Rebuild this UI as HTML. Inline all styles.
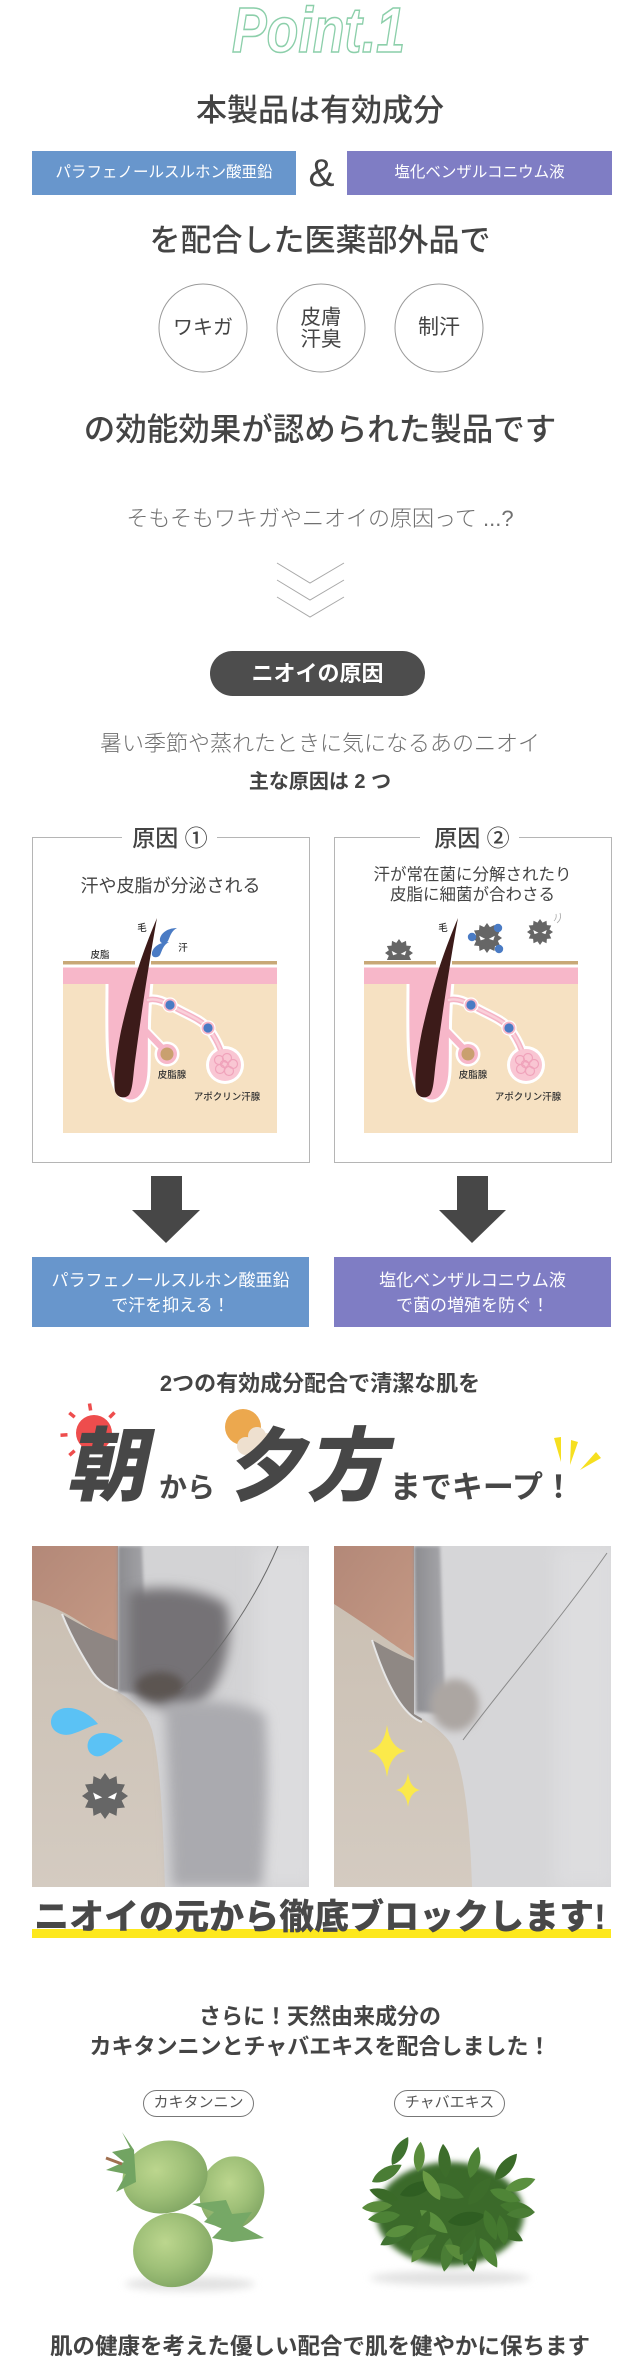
<!DOCTYPE html>
<html><head><meta charset="utf-8">
<style>
html,body{margin:0;padding:0;background:#fff;}
body{width:640px;height:2359px;overflow:hidden;position:relative;font-family:"Liberation Sans","Noto Sans CJK JP",sans-serif;color:#444;}
svg.bg{position:absolute;left:0;top:0;}
.t{position:absolute;white-space:nowrap;text-align:center;}
.full{left:0;width:640px;}
.m{font-weight:500;}
.b{font-weight:700;}
.l{font-weight:300;color:#707070;}
.w{color:#fff;}
</style></head><body>
<svg class="bg" width="640" height="2359" viewBox="0 0 640 2359" xmlns="http://www.w3.org/2000/svg">
<defs>
  <symbol id="germ" viewBox="-10 -10 20 20" overflow="visible">
    <polygon fill="#666" points="10,0 7.24,1.94 8.66,5 5.3,5.3 5,8.66 1.94,7.24 0,10 -1.94,7.24 -5,8.66 -5.3,5.3 -8.66,5 -7.24,1.94 -10,0 -7.24,-1.94 -8.66,-5 -5.3,-5.3 -5,-8.66 -1.94,-7.24 0,-10 1.94,-7.24 5,-8.66 5.3,-5.3 8.66,-5 7.24,-1.94"/>
    <polygon fill="#fff" points="-5.2,-1.5 -1.2,0.6 -4.2,1.6"/>
    <polygon fill="#fff" points="5.2,-1.5 1.2,0.6 4.2,1.6"/>
  </symbol>
  <g id="skin">
    <rect x="0" y="-1" width="214" height="7" fill="#fff"/>
    <rect x="0" y="0" width="72" height="3.5" fill="#c8a877"/>
    <rect x="88" y="0" width="126" height="3.5" fill="#c8a877"/>
    <rect x="0" y="23" width="214" height="149" fill="#f6e1c2"/>
    <path d="M85,39 C92,37 100,40 107,44 C120,52 138,58 145,67 C152,76 158,88 161,100" fill="none" stroke="#fff" stroke-width="10" stroke-linecap="round"/>
    <path d="M79,66 L104,92" stroke="#fff" stroke-width="10" stroke-linecap="round"/>
    <circle cx="104" cy="93" r="12.5" fill="#fff"/>
    <circle cx="162" cy="104" r="19" fill="#fff"/>
    <path d="M44,20 C44,70 41,118 57,135 C69,147 85,137 86,110 C87,88 85,60 89,20 Z" fill="#f7b7c9" stroke="#fff" stroke-width="3"/>
    <path d="M85,39 C92,37 100,40 107,44 C120,52 138,58 145,67 C152,76 158,88 161,100" fill="none" stroke="#f5b3c5" stroke-width="5.5" stroke-linecap="round"/>
    <path d="M85,39 C92,37 100,40 107,44 C120,52 138,58 145,67 C152,76 158,88 161,100" fill="none" stroke="#fad0da" stroke-width="2.5" stroke-linecap="round"/>
    <path d="M79,66 L104,92" stroke="#f7b7c9" stroke-width="6" stroke-linecap="round"/>
    <circle cx="104" cy="93" r="10" fill="#f7b7c9"/>
    <circle cx="104" cy="93" r="6.5" fill="#c9a06f"/>
    <circle cx="162" cy="104" r="16" fill="#f9c6d3"/>
    <g fill="none" stroke="#f0a3bb" stroke-width="1.2">
      <circle cx="156" cy="99" r="4.5"/><circle cx="164" cy="97" r="4.5"/><circle cx="170" cy="103" r="4.5"/>
      <circle cx="157" cy="108" r="4.5"/><circle cx="166" cy="110" r="4.5"/><circle cx="161" cy="103" r="3.5"/>
    </g>
    <circle cx="107" cy="44" r="7" fill="#f7b7c9" stroke="#fff" stroke-width="1.2"/>
    <circle cx="107" cy="44" r="4.6" fill="#4a7bc4"/>
    <circle cx="145" cy="67" r="7" fill="#f7b7c9" stroke="#fff" stroke-width="1.2"/>
    <circle cx="145" cy="67" r="4.6" fill="#4a7bc4"/>
    <rect x="0" y="6.5" width="214" height="16.5" fill="#f7b7c9"/>
    <path d="M94,-43 C88,-10 80,40 72,100 C70,115 70,128 66,134 C62,138 54,137 52,130 C50,120 53,95 58,70 C68,25 80,-10 94,-43 Z" fill="#3c1b19"/>
    <g font-family="Liberation Sans, Noto Sans CJK JP, sans-serif" font-size="9.5" font-weight="500" fill="#333" text-anchor="middle">
      <text x="79" y="-30">毛</text>
      <text x="109" y="117">皮脂腺</text>
      <text x="164" y="139">アポクリン汗腺</text>
    </g>
  </g>
  <filter id="blur8" x="-50%" y="-50%" width="200%" height="200%"><feGaussianBlur stdDeviation="8"/></filter>
  <filter id="blur6" x="-50%" y="-50%" width="200%" height="200%"><feGaussianBlur stdDeviation="6"/></filter>
  <filter id="blur4" x="-50%" y="-50%" width="200%" height="200%"><feGaussianBlur stdDeviation="4"/></filter>
  <filter id="blur3" x="-50%" y="-50%" width="200%" height="200%"><feGaussianBlur stdDeviation="3"/></filter>
  <filter id="blur2" x="-50%" y="-50%" width="200%" height="200%"><feGaussianBlur stdDeviation="1.5"/></filter>
  <clipPath id="cpL"><rect x="32" y="1546" width="277" height="341"/></clipPath>
  <clipPath id="cpR"><rect x="334" y="1546" width="277" height="341"/></clipPath>
  <linearGradient id="bgG" x1="0" y1="0" x2="0" y2="1"><stop offset="0" stop-color="#c9beb1"/><stop offset="1" stop-color="#d4cbc1"/></linearGradient>
  <linearGradient id="skG" x1="0" y1="0" x2="1" y2="1"><stop offset="0" stop-color="#b38878"/><stop offset="1" stop-color="#c69a85"/></linearGradient>
  <linearGradient id="hemG" x1="0" y1="0" x2="1" y2="0"><stop offset="0" stop-color="#8c8c90"/><stop offset="1" stop-color="#a8a8ac"/></linearGradient>
  <radialGradient id="pG" cx="0.42" cy="0.38" r="0.72"><stop offset="0" stop-color="#bcd68e"/><stop offset="0.5" stop-color="#9fc078"/><stop offset="1" stop-color="#7aa05e"/></radialGradient>
  <path id="leaf" d="M0,0 C5,-4.5 13,-4.5 19,0 C13,4.5 5,4.5 0,0 Z"/>
</defs>

<!-- Point.1 -->
<text x="232" y="52" font-family="Liberation Sans, sans-serif" font-weight="bold" font-style="italic" font-size="64" fill="none" stroke="#8ccfaa" stroke-width="1.6" textLength="173" lengthAdjust="spacingAndGlyphs">Point.1</text>

<!-- top boxes -->
<rect x="32" y="151" width="264" height="44" fill="#6896cc"/>
<rect x="347" y="151" width="265" height="44" fill="#7f7dc4"/>

<!-- circles -->
<circle cx="203" cy="328" r="44" fill="none" stroke="#9a9a9a" stroke-width="1"/>
<circle cx="321" cy="328" r="44" fill="none" stroke="#9a9a9a" stroke-width="1"/>
<circle cx="439" cy="328" r="44" fill="none" stroke="#9a9a9a" stroke-width="1"/>

<!-- chevrons -->
<g fill="none" stroke="#a8a8a8" stroke-width="1">
  <polyline points="277,563 310,583 344,563"/>
  <polyline points="277,580 310,600 344,580"/>
  <polyline points="277,597 310,617 344,597"/>
</g>

<!-- pill -->
<rect x="210" y="651" width="215" height="45" rx="22.5" fill="#4d4d4d"/>

<!-- cause boxes -->
<path d="M122,837.5 H32.5 V1162.5 H309.5 V837.5 H217" fill="none" stroke="#b5b5b5" stroke-width="1"/>
<path d="M420,837.5 H334.5 V1162.5 H611.5 V837.5 H519" fill="none" stroke="#b5b5b5" stroke-width="1"/>

<!-- box 1 illustration -->
<use href="#skin" transform="translate(63,961)"/>
<path d="M177,928 C166,928 159,935 160,941 C161,944 166,944 168,941 C170,937 171,931 177,928 Z" fill="#4a7bc4"/>
<path d="M169,942 C158,942 151,949 152,955 C153,958 158,958 160,955 C162,951 163,945 169,942 Z" fill="#4a7bc4"/>
<g font-family="Liberation Sans, Noto Sans CJK JP, sans-serif" font-size="9.5" font-weight="500" fill="#333" text-anchor="middle">
  <text x="183" y="951">汗</text>
  <text x="100" y="958">皮脂</text>
</g>

<!-- box 2 illustration -->
<use href="#germ" x="385" y="939" width="28" height="28"/>
<use href="#skin" transform="translate(364,961)"/>
<use href="#germ" x="472" y="923" width="30" height="30"/>
<circle cx="472" cy="937" r="4.2" fill="#4a7bc4"/>
<circle cx="498" cy="928" r="4.2" fill="#4a7bc4"/>
<circle cx="499" cy="949" r="4.2" fill="#4a7bc4"/>
<use href="#germ" x="527" y="919" width="26" height="26"/>
<path d="M554,921 q3,-3 2,-7 M557,923 q5,-4 3,-10" fill="none" stroke="#aaa" stroke-width="0.8"/>

<!-- arrows -->
<rect x="151" y="1176" width="31" height="35" fill="#474747"/>
<polygon points="132,1210 200,1210 166,1243" fill="#474747"/>
<rect x="457" y="1176" width="31" height="35" fill="#474747"/>
<polygon points="439,1210 506,1210 472,1243" fill="#474747"/>

<!-- result boxes -->
<rect x="32" y="1257" width="277" height="70" fill="#6896cc"/>
<rect x="334" y="1257" width="277" height="70" fill="#7f7dc4"/>

<!-- sun -->
<g stroke="#ee4d4d" stroke-width="3.5" stroke-linecap="butt">
  <line x1="90.6" y1="1410.5" x2="89.5" y2="1403.5"/>
  <line x1="109.5" y1="1417.5" x2="114.5" y2="1412.5"/>
  <line x1="74.7" y1="1417.2" x2="69.3" y2="1412.8"/>
  <line x1="67.5" y1="1434.8" x2="60.5" y2="1435.2"/>
  <line x1="74.6" y1="1450.7" x2="69.4" y2="1455.3"/>
</g>
<circle cx="94" cy="1433" r="18" fill="#ee4d4d"/>
<!-- sunset -->
<circle cx="243" cy="1427" r="18" fill="#eca84e"/>
<g fill="#eee0cf">
  <circle cx="246" cy="1446" r="9"/><circle cx="257" cy="1436" r="9"/><circle cx="268" cy="1440" r="7"/><circle cx="258" cy="1449" r="8"/>
</g>
<!-- sparks -->
<g fill="#f6df1f">
  <polygon points="554,1438 561,1437 561,1462"/>
  <polygon points="571,1440 578,1442 570,1465"/>
  <polygon points="596,1452 601,1458 580,1470"/>
</g>

<!-- left photo -->
<g clip-path="url(#cpL)">
  <rect x="32" y="1546" width="277" height="341" fill="url(#bgG)"/>
  <path d="M32,1546 H124 V1645 C110,1642 95,1632 80,1622 C65,1612 48,1604 32,1600 Z" fill="url(#skG)"/>
  <path d="M62,1614 C80,1625 100,1635 122,1642 L124,1692 C110,1690 98,1682 90,1668 C80,1652 70,1634 62,1614 Z" fill="#8e8683"/>
  <path d="M62,1614 C70,1634 80,1652 90,1668 C98,1682 110,1690 124,1692" fill="none" stroke="#e6e6e6" stroke-width="2"/>
  <path d="M118,1546 H309 V1887 H165 C163,1820 160,1760 152,1730 C146,1712 135,1702 118,1692 Z" fill="#d3d3d5"/>
  <rect x="255" y="1546" width="60" height="341" fill="#dcdcde" filter="url(#blur8)"/>
  <path d="M118,1546 H142 C144,1600 146,1650 150,1694 L118,1692 Z" fill="url(#hemG)" filter="url(#blur2)"/>
  <path d="M128,1592 C160,1584 200,1588 226,1604 C236,1640 222,1690 196,1706 C170,1713 142,1706 128,1690 Z" fill="#747276" filter="url(#blur6)"/>
  <ellipse cx="160" cy="1686" rx="24" ry="14" fill="#5b5451" filter="url(#blur4)"/>
  <path d="M165,1705 C200,1698 240,1700 265,1715 C270,1780 265,1850 262,1887 H172 C170,1820 168,1760 165,1705 Z" fill="#aaaaaf" filter="url(#blur6)"/>
  <path d="M278,1546 C255,1600 215,1660 180,1690" fill="none" stroke="#6a6a6a" stroke-width="1"/>
  <path d="M98,1724 C85,1708 62,1702 53,1715 C46,1727 58,1738 72,1734 C82,1731 90,1726 98,1724 Z" fill="#5bc2f5"/>
  <path d="M123,1741 C112,1731 95,1730 89,1740 C84,1750 93,1760 103,1755 C110,1751 117,1745 123,1741 Z" fill="#5bc2f5"/>
  <use href="#germ" x="82" y="1773" width="46" height="46"/>
</g>

<!-- right photo -->
<g clip-path="url(#cpR)">
  <rect x="334" y="1546" width="277" height="341" fill="url(#bgG)"/>
  <path d="M334,1546 H418 V1660 C400,1650 375,1630 334,1604 Z" fill="url(#skG)"/>
  <path d="M372,1640 C390,1650 405,1658 418,1662 L422,1722 C405,1716 388,1690 372,1640 Z" fill="#8f8884"/>
  <path d="M372,1640 C388,1690 405,1716 422,1722" fill="none" stroke="#e6e6e6" stroke-width="2"/>
  <path d="M414,1546 H611 V1887 H472 C470,1820 464,1770 452,1745 C442,1730 428,1722 414,1714 Z" fill="#d6d6d8"/>
  <rect x="555" y="1546" width="60" height="341" fill="#dddddf" filter="url(#blur8)"/>
  <path d="M414,1546 H440 C442,1600 443,1660 446,1714 L416,1712 Z" fill="url(#hemG)" filter="url(#blur2)"/>
  <ellipse cx="455" cy="1705" rx="24" ry="26" fill="#aca6a2" filter="url(#blur4)"/>
  <path d="M607,1553 C560,1620 500,1690 463,1740" fill="none" stroke="#8a8a8a" stroke-width="1"/>
  <path d="M387,1725 Q390,1748 406,1751 Q390,1754 387,1777 Q384,1754 368,1751 Q384,1748 387,1725 Z" fill="#fbe94a"/>
  <path d="M408,1773 Q410,1788 420,1790 Q410,1792 408,1807 Q406,1792 396,1790 Q406,1788 408,1773 Z" fill="#fbe94a"/>
</g>

<!-- yellow underline -->
<rect x="32" y="1929" width="579" height="9" fill="#fde81e"/>

<!-- pills -->
<rect x="143.5" y="2090.5" width="110" height="26" rx="13" fill="none" stroke="#777" stroke-width="1"/>
<rect x="394.5" y="2090.5" width="110" height="26" rx="13" fill="none" stroke="#777" stroke-width="1"/>

<!-- persimmons -->
<ellipse cx="190" cy="2284" rx="65" ry="7" fill="#e2e2e2" filter="url(#blur4)"/>
<ellipse cx="232" cy="2193" rx="32" ry="37" transform="rotate(15 232 2193)" fill="url(#pG)"/>
<ellipse cx="165" cy="2177" rx="43" ry="36" transform="rotate(-15 165 2177)" fill="url(#pG)"/>
<path d="M122,2132 L130,2148 L112,2152 L124,2162 L106,2170 L126,2174 L116,2192 L136,2182 L134,2150 Z" fill="#72a462"/>
<line x1="106" y1="2158" x2="122" y2="2164" stroke="#a07050" stroke-width="3"/>
<ellipse cx="173" cy="2250" rx="40" ry="37" transform="rotate(-10 173 2250)" fill="url(#pG)"/>
<path d="M192,2204 L214,2212 L204,2222 L222,2228 L212,2238 L232,2242 L264,2238 L242,2226 L252,2212 L232,2214 L226,2200 Z" fill="#76a866"/>

<!-- tea leaves -->
<ellipse cx="450" cy="2278" rx="80" ry="7" fill="#e2e2e2" filter="url(#blur4)"/>
<ellipse cx="450" cy="2214" rx="74" ry="52" fill="#3a6a29" filter="url(#blur3)"/>
<g>
  <use href="#leaf" transform="translate(372,2182) rotate(-30) scale(1.8)" fill="#4a7d35"/>
  <use href="#leaf" transform="translate(392,2165) rotate(-60) scale(1.7)" fill="#3f7230"/>
  <use href="#leaf" transform="translate(418,2172) rotate(-85) scale(1.6)" fill="#5a8c3c"/>
  <use href="#leaf" transform="translate(446,2178) rotate(-95) scale(1.8)" fill="#3d6d2b"/>
  <use href="#leaf" transform="translate(470,2178) rotate(-75) scale(1.7)" fill="#4d8236"/>
  <use href="#leaf" transform="translate(495,2180) rotate(-50) scale(1.8)" fill="#3a6a28"/>
  <use href="#leaf" transform="translate(505,2190) rotate(-20) scale(1.7)" fill="#5a8f3e"/>
  <use href="#leaf" transform="translate(500,2205) rotate(10) scale(1.8)" fill="#44782f"/>
  <use href="#leaf" transform="translate(495,2225) rotate(30) scale(1.7)" fill="#3c6c2a"/>
  <use href="#leaf" transform="translate(480,2238) rotate(60) scale(1.8)" fill="#4f8537"/>
  <use href="#leaf" transform="translate(468,2240) rotate(80) scale(1.7)" fill="#3a6a28"/>
  <use href="#leaf" transform="translate(450,2238) rotate(100) scale(1.8)" fill="#4a7d35"/>
  <use href="#leaf" transform="translate(430,2236) rotate(125) scale(1.7)" fill="#5a8c3c"/>
  <use href="#leaf" transform="translate(410,2228) rotate(150) scale(1.8)" fill="#3f7230"/>
  <use href="#leaf" transform="translate(400,2215) rotate(172) scale(1.7)" fill="#4d8236"/>
  <use href="#leaf" transform="translate(398,2200) rotate(200) scale(1.6)" fill="#3a6a28"/>
  <use href="#leaf" transform="translate(400,2195) rotate(-20) scale(1.9)" fill="#2f5e22"/>
  <use href="#leaf" transform="translate(430,2185) rotate(20) scale(1.9)" fill="#4a7d35"/>
  <use href="#leaf" transform="translate(468,2205) rotate(-50) scale(1.9)" fill="#3d6d2b"/>
  <use href="#leaf" transform="translate(420,2210) rotate(40) scale(1.9)" fill="#5a8f3e"/>
  <use href="#leaf" transform="translate(448,2222) rotate(-10) scale(2.0)" fill="#2f5e22"/>
  <use href="#leaf" transform="translate(485,2210) rotate(70) scale(1.7)" fill="#44782f"/>
  <use href="#leaf" transform="translate(418,2240) rotate(-70) scale(1.7)" fill="#3c6c2a"/>
  <use href="#leaf" transform="translate(445,2245) rotate(30) scale(1.7)" fill="#5a8c3c"/>
  <use href="#leaf" transform="translate(475,2235) rotate(110) scale(1.7)" fill="#3f7230"/>
  <use href="#leaf" transform="translate(490,2190) rotate(20) scale(1.7)" fill="#4f8537"/>
  <use href="#leaf" transform="translate(362,2208) rotate(-5) scale(1.6)" fill="#5a8c3c"/>
  <use href="#leaf" transform="translate(535,2212) rotate(175) scale(1.5)" fill="#4a7d35"/>
  <use href="#leaf" transform="translate(440,2200) rotate(-120) scale(1.8)" fill="#6a9a45"/>
  <use href="#leaf" transform="translate(410,2250) rotate(-30) scale(1.6)" fill="#4a7d35"/>
  <use href="#leaf" transform="translate(460,2255) rotate(-60) scale(1.6)" fill="#3d6d2b"/>
  <use href="#leaf" transform="translate(385,2235) rotate(-15) scale(1.6)" fill="#5a8f3e"/>
  <use href="#leaf" transform="translate(505,2245) rotate(-100) scale(1.6)" fill="#44782f"/>
</g>
</svg>

<div class="t full m" style="top:91px;font-size:31px;line-height:40px;">本製品は有効成分</div>
<div class="t w" style="left:32px;width:264px;top:151px;font-size:15.5px;line-height:44px;">パラフェノールスルホン酸亜鉛</div>
<div class="t" style="left:296px;width:51px;top:154px;font-size:39px;line-height:40px;color:#444;">&amp;</div>
<div class="t w" style="left:347px;width:265px;top:151px;font-size:15.5px;line-height:44px;">塩化ベンザルコニウム液</div>
<div class="t full m" style="top:221px;font-size:31px;line-height:40px;">を配合した医薬部外品で</div>

<div class="t" style="left:159px;width:88px;top:316px;font-size:20px;line-height:24px;">ワキガ</div>
<div class="t" style="left:277px;width:88px;top:307px;font-size:20.5px;line-height:22px;">皮膚<br>汗臭</div>
<div class="t" style="left:395px;width:88px;top:316px;font-size:21px;line-height:24px;">制汗</div>

<div class="t full m" style="top:409px;font-size:31.5px;line-height:40px;">の効能効果が認められた製品です</div>

<div class="t full l" style="top:504px;font-size:22px;line-height:30px;">そもそもワキガやニオイの原因って ...?</div>
<div class="t b w" style="left:210px;width:215px;top:659px;font-size:22px;line-height:30px;">ニオイの原因</div>
<div class="t full l" style="top:729px;font-size:22px;line-height:30px;">暑い季節や蒸れたときに気になるあのニオイ</div>
<div class="t full b" style="top:768px;font-size:20px;line-height:28px;">主な原因は 2 つ</div>

<div class="t m" style="left:120px;width:100px;top:823px;font-size:23px;line-height:30px;">原因 ①</div>
<div class="t m" style="left:422px;width:100px;top:823px;font-size:23px;line-height:30px;">原因 ②</div>
<div class="t" style="left:32px;width:277px;top:874px;font-size:18px;line-height:24px;">汗や皮脂が分泌される</div>
<div class="t" style="left:334px;width:277px;top:865px;font-size:16.5px;line-height:20px;">汗が常在菌に分解されたり<br>皮脂に細菌が合わさる</div>

<div class="t w" style="left:32px;width:277px;top:1268px;font-size:17px;line-height:25px;">パラフェノールスルホン酸亜鉛<br>で汗を抑える！</div>
<div class="t w" style="left:334px;width:277px;top:1268px;font-size:17px;line-height:25px;">塩化ベンザルコニウム液<br>で菌の増殖を防ぐ！</div>

<div class="t full b" style="top:1369px;font-size:22px;line-height:30px;">2つの有効成分配合で清潔な肌を</div>

<div class="t" style="left:72px;width:80px;top:1427px;font-size:80px;line-height:80px;font-weight:900;color:#474747;transform:skewX(-12deg);">朝</div>
<div class="t b" style="left:157px;width:60px;top:1472px;font-size:28px;line-height:32px;color:#474747;">から</div>
<div class="t" style="left:230px;width:164px;top:1427px;font-size:80px;line-height:80px;font-weight:900;color:#474747;transform:skewX(-12deg);">夕方</div>
<div class="t b" style="left:385px;width:194px;top:1471px;font-size:31px;line-height:34px;color:#474747;">までキープ！</div>

<div class="t full" style="top:1898px;font-size:35px;line-height:40px;font-weight:900;color:#484848;">ニオイの元から徹底ブロックします!</div>

<div class="t full b" style="top:2002px;font-size:22px;line-height:30px;">さらに！天然由来成分の<br>カキタンニンとチャバエキスを配合しました！</div>

<div class="t" style="left:143px;width:111px;top:2093px;font-size:15px;line-height:20px;color:#555;">カキタンニン</div>
<div class="t" style="left:394px;width:111px;top:2093px;font-size:15px;line-height:20px;color:#555;">チャバエキス</div>

<div class="t full b" style="top:2332px;font-size:22.5px;line-height:30px;">肌の健康を考えた優しい配合で肌を健やかに保ちます</div>
</body></html>
